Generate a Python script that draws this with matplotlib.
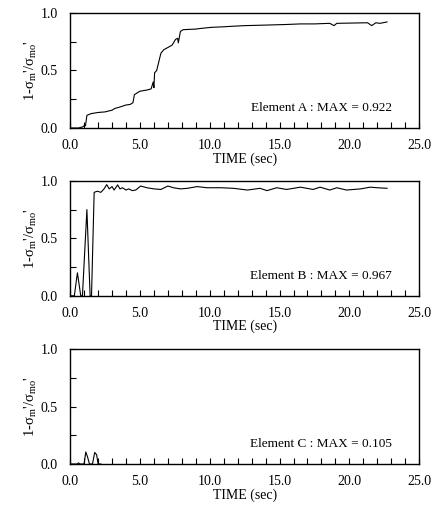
import matplotlib.pyplot as plt
from matplotlib.ticker import MultipleLocator, FormatStrFormatter

plt.rcParams['font.family'] = ['Liberation Serif', 'DejaVu Serif']
plt.rcParams['mathtext.fontset'] = 'custom'
plt.rcParams['mathtext.rm'] = 'Liberation Serif'
plt.rcParams['font.size'] = 10

# Element A
t_a = [0.0, 0.6, 0.9, 1.0, 1.1, 1.2, 1.5, 2.0, 2.5, 3.0, 3.2, 3.5, 4.0, 4.3, 4.5, 4.6,
       5.0, 5.5, 5.8, 5.95, 6.0, 6.05, 6.2, 6.4, 6.5, 6.7, 7.0, 7.3, 7.55, 7.7, 7.75,
       7.9, 8.1, 9.0, 9.3, 10.1, 11.0, 11.7, 12.5, 14.1, 15.5, 16.5, 17.5, 18.6, 18.9,
       19.1, 20.0, 21.3, 21.6, 21.9, 22.2, 22.7]
r_a = [0.0, 0.0, 0.01, 0.02, 0.02, 0.11, 0.125, 0.135, 0.14, 0.155, 0.17, 0.18, 0.2,
       0.205, 0.22, 0.29, 0.32, 0.33, 0.34, 0.40, 0.35, 0.48, 0.50, 0.60, 0.65, 0.68,
       0.70, 0.72, 0.77, 0.78, 0.74, 0.84, 0.855, 0.86, 0.865, 0.875, 0.88, 0.885, 0.89,
       0.895, 0.90, 0.905, 0.905, 0.91, 0.89, 0.91, 0.912, 0.915, 0.89, 0.915, 0.91, 0.922]

# Element B
t_b = [0.0, 0.3, 0.52, 0.76, 0.88, 1.2, 1.43, 1.53, 1.72, 1.95, 2.2, 2.43, 2.62, 2.8,
       3.0, 3.15, 3.4, 3.57, 3.75, 4.0, 4.2, 4.45, 4.7, 5.05, 5.5, 6.0, 6.5, 7.0, 7.4,
       7.9, 8.4, 9.1, 9.8, 10.8, 11.7, 12.7, 13.6, 14.1, 14.8, 15.5, 16.5, 17.4, 17.9,
       18.6, 19.1, 19.8, 20.8, 21.5, 22.0, 22.7]
r_b = [0.0, 0.0, 0.20, 0.0, 0.0, 0.75, 0.0, 0.0, 0.90, 0.91, 0.90, 0.93, 0.967, 0.93,
       0.95, 0.92, 0.965, 0.93, 0.94, 0.92, 0.93, 0.915, 0.92, 0.955, 0.94, 0.93, 0.925,
       0.955, 0.94, 0.93, 0.935, 0.95, 0.94, 0.94, 0.935, 0.92, 0.935, 0.915, 0.94,
       0.925, 0.945, 0.925, 0.945, 0.92, 0.94, 0.92, 0.93, 0.945, 0.94, 0.935]

# Element C
t_c = [0.0, 0.5, 0.6, 0.7, 1.0, 1.12, 1.25, 1.38, 1.6, 1.76, 1.9, 2.0, 2.2]
r_c = [0.0, 0.0, 0.01, 0.0, 0.0, 0.105, 0.06, 0.0, 0.0, 0.10, 0.08, 0.0, 0.0]

labels = ['Element A : MAX = 0.922', 'Element B : MAX = 0.967', 'Element C : MAX = 0.105']
series = [(t_a, r_a), (t_b, r_b), (t_c, r_c)]
ylabel = "1-σ$_{\\rm m}$'/σ$_{\\rm mo}$'"

fig = plt.figure(figsize=(4.33, 5.11), dpi=100)
boxes = [[0.162, 0.7495, 0.806, 0.2251],
         [0.162, 0.4211, 0.806, 0.2250],
         [0.162, 0.0920, 0.806, 0.2250]]

for box, (t, r), lab in zip(boxes, series, labels):
    ax = fig.add_axes(box)
    ax.plot(t, r, color='black', lw=0.8)
    ax.set_xlim(0, 25)
    ax.set_ylim(0, 1.0)
    ax.xaxis.set_major_locator(MultipleLocator(5))
    ax.xaxis.set_minor_locator(MultipleLocator(1))
    ax.yaxis.set_major_locator(MultipleLocator(0.5))
    ax.yaxis.set_minor_locator(MultipleLocator(0.25))
    ax.xaxis.set_major_formatter(FormatStrFormatter('%.1f'))
    ax.yaxis.set_major_formatter(FormatStrFormatter('%.1f'))
    ax.tick_params(which='both', direction='in', length=4, width=0.8, labelsize=10)
    ax.tick_params(axis='x', pad=8)
    ax.tick_params(axis='y', pad=9)
    for s in ax.spines.values():
        s.set_linewidth(1.0)
    ax.set_xlabel('TIME (sec)', fontsize=10, labelpad=0)
    ax.set_ylabel(ylabel, fontsize=10.5, labelpad=1)
    ax.text(23.05, 0.17, lab, ha='right', va='center', fontsize=9.5)

fig.savefig('out.png', dpi=100)
